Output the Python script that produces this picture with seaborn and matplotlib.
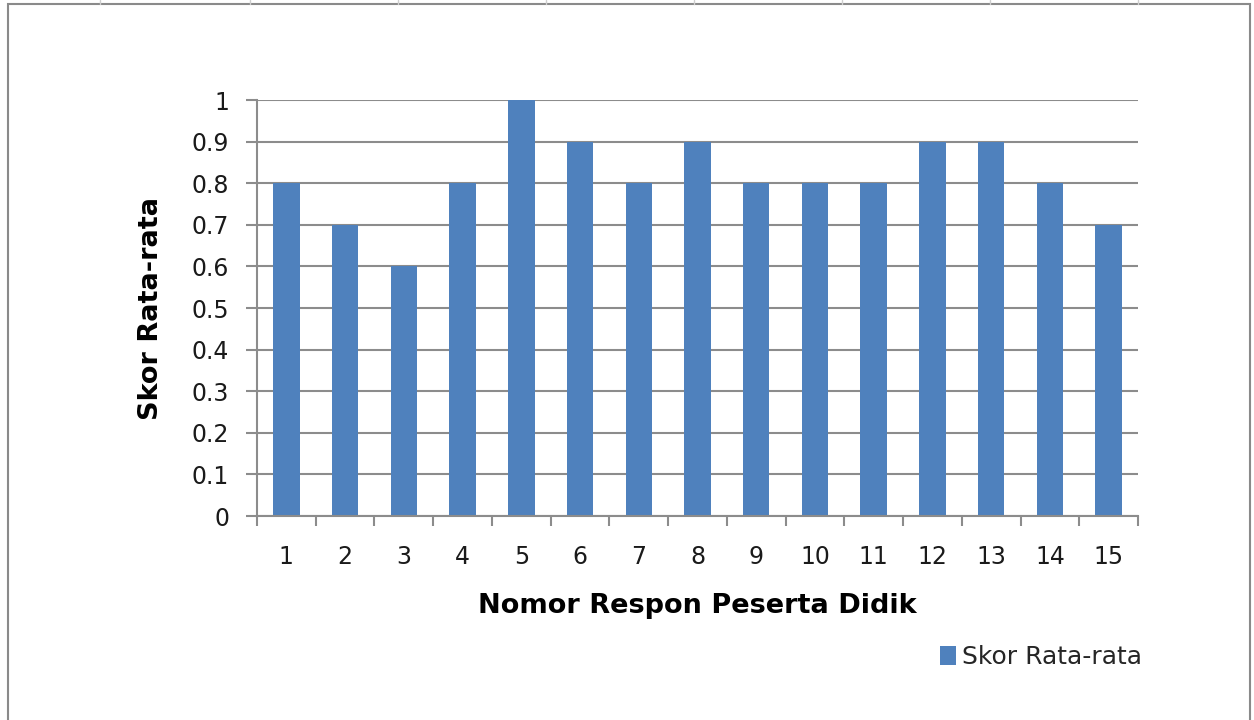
import matplotlib
matplotlib.use("Agg")
import matplotlib.pyplot as plt
import seaborn as sns
import pandas as pd
from matplotlib.patches import Rectangle
from matplotlib.lines import Line2D

# Data
respon = [str(i) for i in range(1, 16)]
skor = [0.8, 0.7, 0.6, 0.8, 1.0, 0.9, 0.8, 0.9, 0.8, 0.8, 0.8, 0.9, 0.9, 0.8, 0.7]
y_ticks = [0, 0.1, 0.2, 0.3, 0.4, 0.5, 0.6, 0.7, 0.8, 0.9, 1]
y_labels = ["0", "0.1", "0.2", "0.3", "0.4", "0.5", "0.6", "0.7", "0.8", "0.9", "1"]

df = pd.DataFrame({"respon": respon, "skor": skor})

sns.set_style("white")
plt.rcParams["font.family"] = ["DejaVu Sans"]

bar_color = "#4F81BD"
grid_color = "#8c8c8c"
text_color = "#1a1a1a"

fig = plt.figure(figsize=(12.54, 7.2), dpi=100)
ax = fig.add_axes([257 / 1254, 1 - 516 / 720, 881 / 1254, 416 / 720])

sns.barplot(data=df, x="respon", y="skor", color=bar_color, width=0.45,
            saturation=1, linewidth=0, ax=ax, label="Skor Rata-rata")

ax.set_xlim(-0.5, len(respon) - 0.5)
ax.set_ylim(0, 1)
ax.set_yticks(y_ticks)
ax.set_yticklabels(y_labels, fontsize=17, color=text_color)
ax.set_xticks(range(len(respon)))
ax.set_xticklabels(respon, fontsize=17, color=text_color)
ax.set_xticks([i - 0.5 for i in range(len(respon) + 1)], minor=True)
ax.tick_params(axis="x", which="major", bottom=True, length=0, pad=21)
ax.tick_params(axis="x", which="minor", bottom=True, length=7.5, width=1.5,
               color=grid_color, direction="out")
ax.tick_params(axis="y", left=True, length=8, width=1.5, color=grid_color,
               pad=12)

ax.yaxis.grid(True, color=grid_color, linewidth=1.5)
ax.set_axisbelow(True)
for side in ["top", "right"]:
    ax.spines[side].set_visible(False)
for side in ["left", "bottom"]:
    ax.spines[side].set_color(grid_color)
    ax.spines[side].set_linewidth(1.5)

ax.set_xlabel("Nomor Respon Peserta Didik", fontsize=19.5, fontweight="bold",
              color="black", labelpad=17)
ax.set_ylabel("Skor Rata-rata", fontsize=19.5, fontweight="bold",
              color="black", labelpad=20)

ax.legend(loc="center left", bbox_to_anchor=(917 / 1254, 1 - 657 / 720),
          bbox_transform=fig.transFigure, frameon=False, fontsize=18,
          handlelength=0.65, handleheight=0.8, handletextpad=0.25)

# Chart border and spreadsheet grid remnants
fig.add_artist(Rectangle((8 / 1254, -0.01), 1242 / 1254, 1 - 4 / 720 + 0.01,
                         transform=fig.transFigure, fill=False,
                         edgecolor="#8a8a8a", linewidth=1.5))
for x in [100, 250, 398, 546, 694, 842, 990, 1138]:
    fig.add_artist(Line2D([x / 1254, x / 1254], [1 - 4 / 720, 1],
                          transform=fig.transFigure, color="#cfcfcf", linewidth=1))

fig.savefig("out.png", dpi=100, facecolor="white")
